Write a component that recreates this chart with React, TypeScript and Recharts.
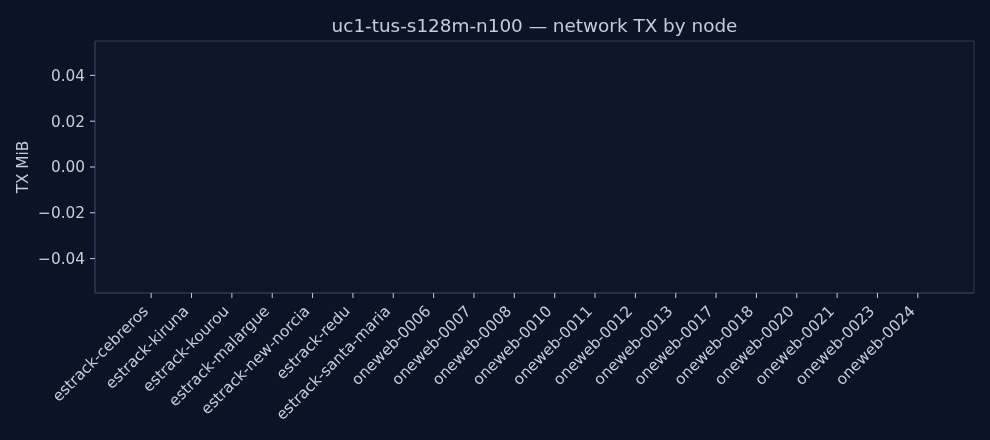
import React from "react";
import { BarChart, Bar, XAxis, YAxis, CartesianGrid } from "recharts";

const NODES = [
  "estrack-cebreros",
  "estrack-kiruna",
  "estrack-kourou",
  "estrack-malargue",
  "estrack-new-norcia",
  "estrack-redu",
  "estrack-santa-maria",
  "oneweb-0006",
  "oneweb-0007",
  "oneweb-0008",
  "oneweb-0010",
  "oneweb-0011",
  "oneweb-0012",
  "oneweb-0013",
  "oneweb-0017",
  "oneweb-0018",
  "oneweb-0020",
  "oneweb-0021",
  "oneweb-0023",
  "oneweb-0024",
];

const TX_MIB = [0, 0, 0, 0, 0, 0, 0, 0, 0, 0, 0, 0, 0, 0, 0, 0, 0, 0, 0, 0];

const Y_TICKS = [-0.04, -0.02, 0, 0.02, 0.04];

const BG = "#0b1426";
const FACE = "#0c1628";
const SPINE = "#2b3a55";
const TEXT = "#c5cdd9";
const FONT = "DejaVu Sans, sans-serif";
const FS = 15.3;

const data = NODES.map((node, i) => ({ node, tx: TX_MIB[i] }));

function fmtY(v: number) {
  const s = Math.abs(v).toFixed(2);
  return v < 0 ? `\u2212${s}` : s;
}

function RotatedTick(props: any) {
  const { x, y, payload } = props;
  return (
    <g transform={`translate(${x - 2},${y + 12})`}>
      <text transform="rotate(-45)" textAnchor="end" fill={TEXT} fontSize={FS} fontFamily={FONT}>
        {payload.value}
      </text>
    </g>
  );
}

// frame the plot area (matplotlib spines) using the grid's own offset
const edgesH = ({ offset }: any) => [offset.top, offset.top + offset.height];
const edgesV = ({ offset }: any) => [offset.left, offset.left + offset.width];

export default function App() {
  return (
    <div style={{ position: "fixed", top: 0, left: 0, width: 990, height: 440, background: BG }}>
      <div
        style={{
          position: "absolute",
          top: 15,
          left: 0,
          width: 1069,
          textAlign: "center",
          color: TEXT,
          fontFamily: FONT,
          fontSize: 18.4,
        }}
      >
        uc1-tus-s128m-n100 — network TX by node
      </div>
      <BarChart width={990} height={440} data={data} margin={{ top: 41, right: 16, left: 35, bottom: 0 }}>
        <CartesianGrid
          fill={FACE}
          stroke={SPINE}
          strokeDasharray=""
          horizontalCoordinatesGenerator={edgesH}
          verticalCoordinatesGenerator={edgesV}
        />
        <XAxis
          dataKey="node"
          interval={0}
          height={147}
          padding={{ left: 36, right: 36 }}
          axisLine={{ stroke: SPINE }}
          tickLine={{ stroke: TEXT }}
          tickSize={5}
          tickMargin={2}
          tick={<RotatedTick />}
        />
        <YAxis
          type="number"
          domain={[-0.055, 0.055]}
          ticks={Y_TICKS}
          tickFormatter={fmtY}
          width={60}
          axisLine={{ stroke: SPINE }}
          tickLine={{ stroke: TEXT }}
          tickSize={5}
          tickMargin={5}
          tick={{ fill: TEXT, fontSize: FS, fontFamily: FONT }}
          label={{
            value: "TX MiB",
            angle: -90,
            position: "insideLeft",
            offset: -12,
            fill: TEXT,
            fontSize: FS,
            fontFamily: FONT,
            style: { textAnchor: "middle" },
          }}
        />
        <Bar dataKey="tx" fill="#4c9be8" isAnimationActive={false} />
      </BarChart>
    </div>
  );
}
